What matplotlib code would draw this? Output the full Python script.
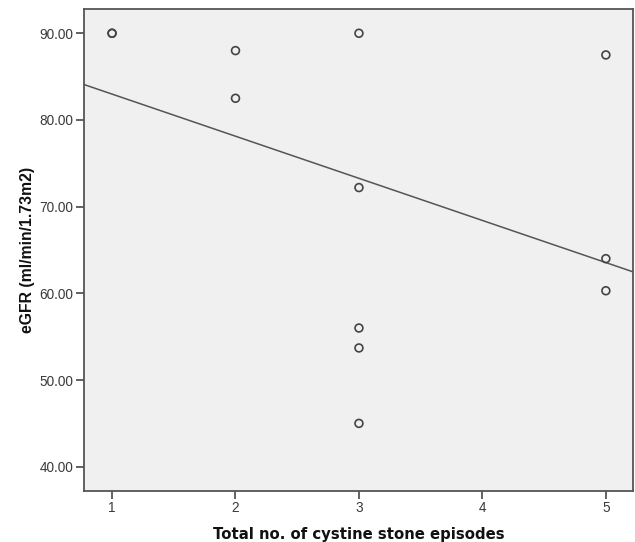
import numpy as np
import matplotlib
matplotlib.use("Agg")
import matplotlib.pyplot as plt
from matplotlib.ticker import FormatStrFormatter

episodes = [1, 1, 2, 2, 3, 3, 3, 3, 3, 5, 5, 5]
egfr = [90.0, 90.0, 88.0, 82.5, 90.0, 72.2, 56.0, 53.7, 45.0, 87.5, 64.0, 60.3]
x_ticks = [1, 2, 3, 4, 5]
y_ticks = [40, 50, 60, 70, 80, 90]

fig = plt.figure(figsize=(6.35, 5.42), dpi=100)
ax = fig.add_axes([0.1323, 0.0941, 0.8646, 0.8893])
ax.set_facecolor("#f0f0f0")

xlim = (0.773, 5.22)
ylim = (37.2, 92.8)

slope, intercept = np.polyfit(episodes, egfr, 1)
xs = np.array(xlim)
ax.plot(xs, slope * xs + intercept, color="#555555", lw=1.1, zorder=2)

ax.scatter(episodes, egfr, s=32, facecolors="none", edgecolors="#444444",
           linewidths=1.2, zorder=3)

ax.set_xlim(*xlim)
ax.set_ylim(*ylim)
ax.set_xticks(x_ticks)
ax.set_yticks(y_ticks)
ax.yaxis.set_major_formatter(FormatStrFormatter("%.2f"))

for s in ax.spines.values():
    s.set_color("#555555")
    s.set_linewidth(1.3)
ax.tick_params(direction="out", length=5.5, width=1.3, color="#555555",
               labelsize=9.8, labelcolor="#3a3a3a", pad=2)
for lab in ax.get_xticklabels() + ax.get_yticklabels():
    lab.set_family("Liberation Sans")

ax.set_xlabel("Total no. of cystine stone episodes", fontsize=10.7,
              fontweight="bold", color="#111111", labelpad=8)
ax.set_ylabel("eGFR (ml/min/1.73m2)", fontsize=11.3, fontweight="bold",
              family="Liberation Sans", color="#111111", labelpad=3.5)

fig.savefig("out.png", dpi=100, facecolor="white")
